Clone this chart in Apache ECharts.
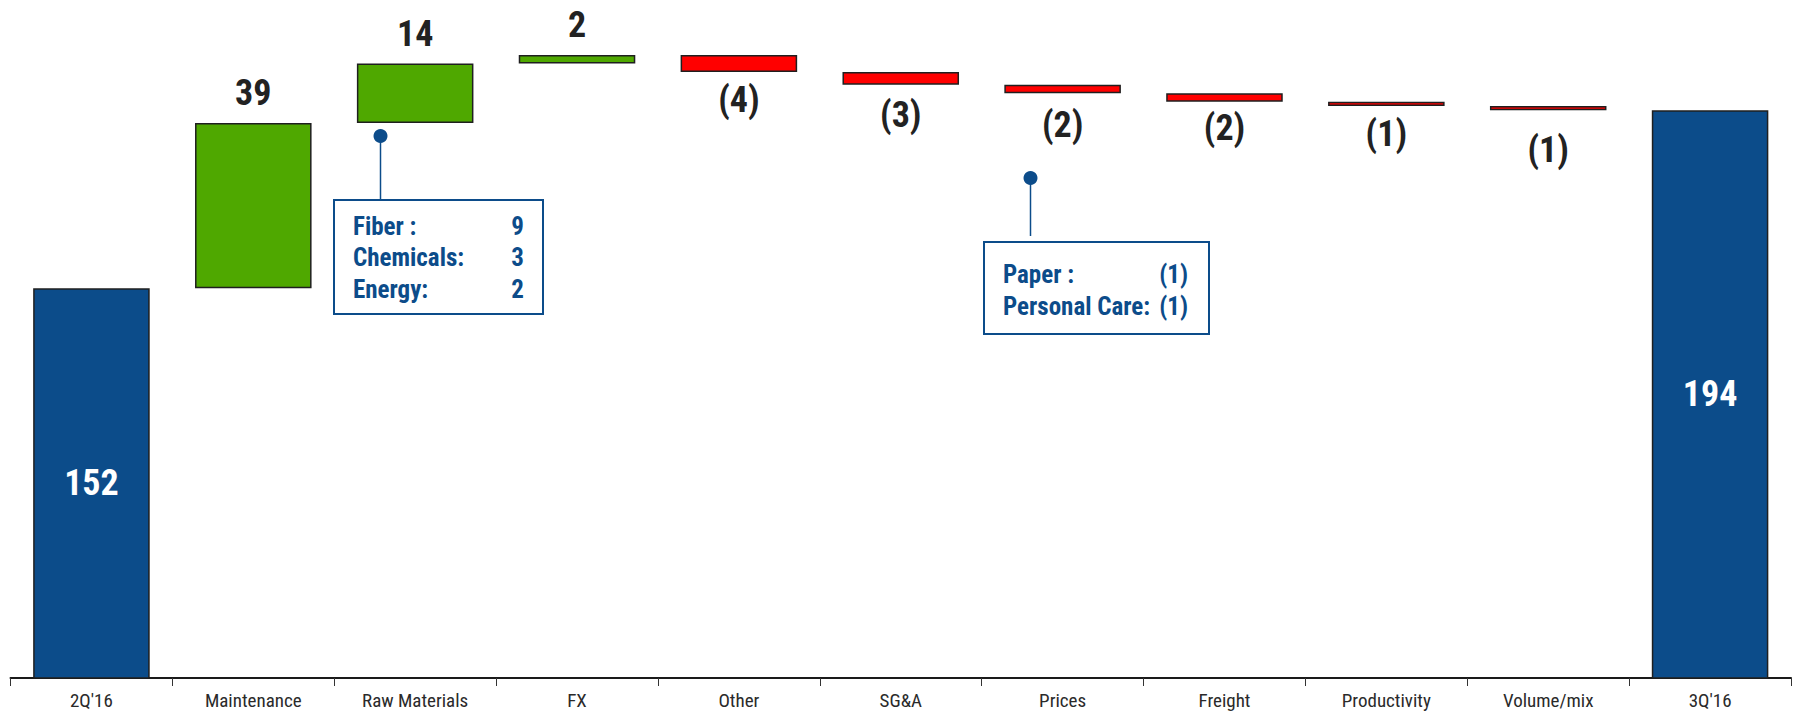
<!DOCTYPE html>
<html><head><meta charset="utf-8">
<script src="https://cdn.jsdelivr.net/npm/echarts@6/dist/echarts.min.js"></script>
<style>html,body{margin:0;padding:0;background:#fff}#c{width:1797px;height:715px}</style>
</head><body><div id="c"></div>
<script>
// ---- data ----
const categories = ["2Q'16", "Maintenance", "Raw Materials", "FX", "Other", "SG&A", "Prices", "Freight", "Productivity", "Volume/mix", "3Q'16"];
const startTotal = 152;
const endTotal = 194;
const changes = [39, 14, 2, -4, -3, -2, -2, -1, -1];
const rawMaterialsLabels = ["Fiber :", "Chemicals:", "Energy:"];
const rawMaterialsValues = ["9", "3", "2"];
const pricesLabels = ["Paper :", "Personal Care:"];
const pricesValues = ["(1)", "(1)"];

// ---- styles ----
const FONT = '"Roboto Condensed","Open Sans Condensed","Liberation Sans Narrow",sans-serif';
const BLUE = '#0c4c8a', GREEN = '#4fa800', RED = '#ff0000', EDGE = '#1f1f1f', INK = '#222222';
// extra label spacing (px) under some negative bars, as placed in the original slide
const labelGapAdjust = { 'SG&A': 2, 'Prices': 4, 'Freight': -2, 'Volume/mix': 12 };

// ---- build waterfall (invisible base + visible piece) ----
const baseData = [0];
const visData = [];
function totalItem(v) {
  return { value: v, itemStyle: { color: BLUE },
    label: { show: true, position: 'inside', color: '#fff', formatter: String(v) } };
}
visData.push(totalItem(startTotal));
let run = startTotal;
changes.forEach((d, i) => {
  const cat = categories[i + 1];
  if (d >= 0) { baseData.push(run); run += d; }
  else { run += d; baseData.push(run); }
  visData.push({
    value: Math.abs(d),
    itemStyle: { color: d >= 0 ? GREEN : RED },
    label: d >= 0
      ? { show: true, position: 'top', distance: 12, color: INK, formatter: String(d) }
      : { show: true, position: 'bottom', distance: 10 + (labelGapAdjust[cat] || 0), color: INK, formatter: '(' + Math.abs(d) + ')' }
  });
});
baseData.push(0);
visData.push(totalItem(endTotal));

const chart = echarts.init(document.getElementById('c'), null, { renderer: 'svg' });

function annText(x, y, text, align) {
  return { type: 'text', x: x, y: y, style: { text: text, fill: BLUE, font: 'bold 25px ' + FONT, align: align, verticalAlign: 'middle' } };
}
const graphics = [
  // Raw materials call-out
  { type: 'line', shape: { x1: 380.5, y1: 136, x2: 380.5, y2: 200 }, style: { stroke: BLUE, lineWidth: 1.5 } },
  { type: 'circle', shape: { cx: 380.5, cy: 136, r: 7 }, style: { fill: BLUE } },
  { type: 'rect', shape: { x: 334, y: 200, width: 209, height: 114 }, style: { fill: '#fff', stroke: BLUE, lineWidth: 2 } },
  // Prices call-out
  { type: 'line', shape: { x1: 1030.5, y1: 178, x2: 1030.5, y2: 236 }, style: { stroke: BLUE, lineWidth: 1.5 } },
  { type: 'circle', shape: { cx: 1030.5, cy: 178, r: 7 }, style: { fill: BLUE } },
  { type: 'rect', shape: { x: 984, y: 242, width: 225, height: 92 }, style: { fill: '#fff', stroke: BLUE, lineWidth: 2 } }
];
rawMaterialsLabels.forEach((t, i) => {
  graphics.push(annText(353, 226 + i * 31.5, t, 'left'));
  graphics.push(annText(524, 226 + i * 31.5, rawMaterialsValues[i], 'right'));
});
pricesLabels.forEach((t, i) => {
  graphics.push(annText(1003, 274 + i * 32, t, 'left'));
  graphics.push(annText(1188, 274 + i * 32, pricesValues[i], 'right'));
});

chart.setOption({
  animation: false,
  backgroundColor: '#ffffff',
  grid: { left: 10.5, right: 6, top: 0, bottom: 37, containLabel: false },
  xAxis: {
    type: 'category',
    data: categories,
    axisLine: { lineStyle: { color: '#1a1a1a', width: 2 } },
    axisTick: { show: true, interval: 0, length: 8, lineStyle: { color: '#333', width: 1 } },
    axisLabel: { interval: 0, fontFamily: FONT, fontSize: 19, fontWeight: 'normal', color: '#2a2a2a', margin: 13 }
  },
  yAxis: { type: 'value', min: 60, max: 220, show: false },
  series: [
    { type: 'bar', stack: 'w', data: baseData, barWidth: '72%', silent: true,
      itemStyle: { color: 'rgba(0,0,0,0)', borderWidth: 0 }, clip: true, z: 1 },
    { type: 'bar', stack: 'w', data: visData, barWidth: '72%', clip: true, z: 2,
      itemStyle: { borderColor: EDGE, borderWidth: 1.5 },
      label: { fontFamily: FONT, fontSize: 36, fontWeight: 'bold' } }
  ],
  graphic: graphics
});
</script>
</body></html>
